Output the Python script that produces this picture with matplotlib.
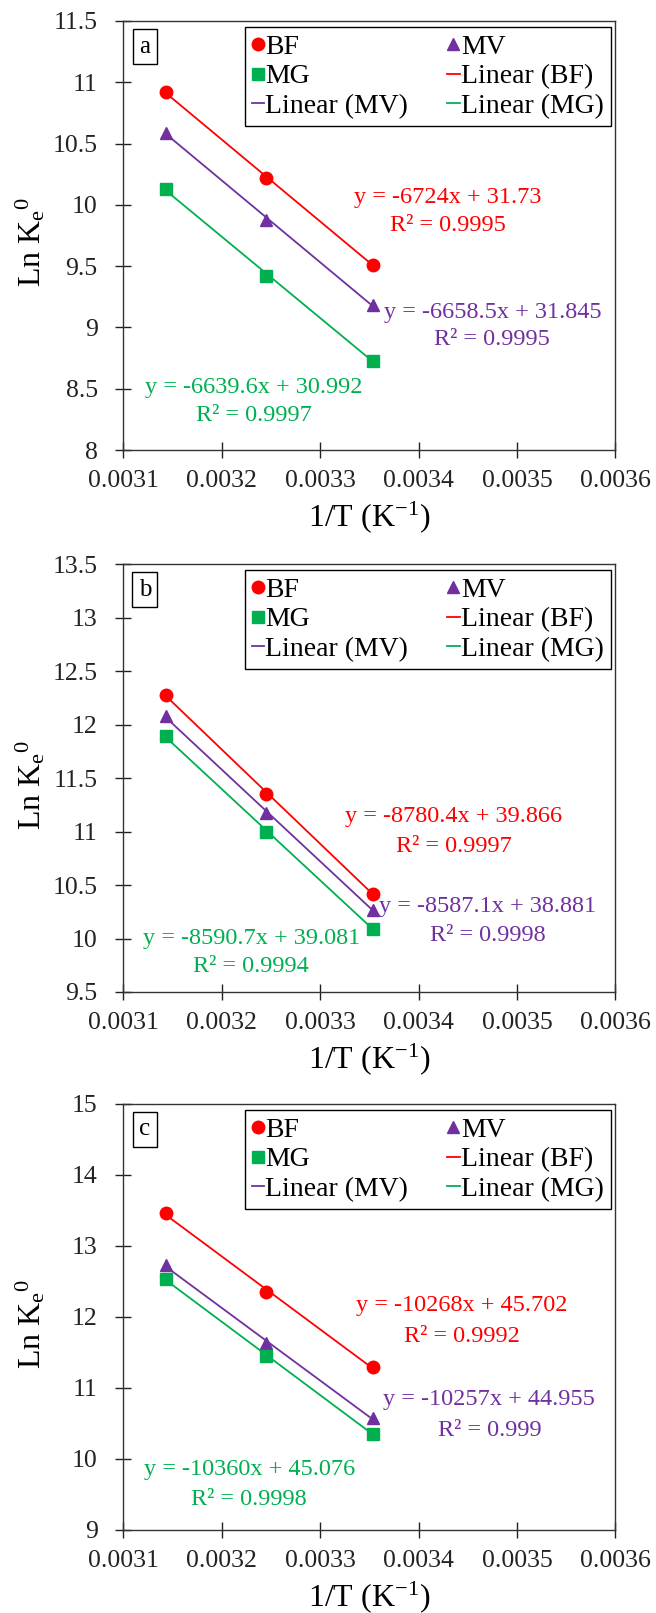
import numpy as np
import matplotlib.pyplot as plt
from matplotlib.lines import Line2D

plt.rcParams['font.family'] = ['Liberation Serif', 'DejaVu Serif']
plt.rcParams['mathtext.fontset'] = 'custom'
plt.rcParams['mathtext.rm'] = 'Liberation Serif'
plt.rcParams['mathtext.it'] = 'Liberation Serif:italic'
plt.rcParams['mathtext.bf'] = 'Liberation Serif:bold'

# 1/T values (45, 35, 25 C)
inv_T = [0.003143, 0.003245, 0.003354]

panel_labels = ['a', 'b', 'c']
bf = [[10.92, 10.22, 9.51], [12.28, 11.35, 10.42], [13.46, 12.35, 11.29]]
mv = [[10.59, 9.88, 9.18], [12.08, 11.17, 10.27], [12.73, 11.63, 10.57]]
mg = [[10.13, 9.42, 8.73], [11.89, 11.00, 10.09], [12.53, 11.45, 10.35]]

ylims = [(8, 11.5), (9.5, 13.5), (9, 15)]
ysteps = [0.5, 0.5, 1]

bf_eq = ['y = -6724x + 31.73', 'y = -8780.4x + 39.866', 'y = -10268x + 45.702']
bf_r2 = ['R² = 0.9995', 'R² = 0.9997', 'R² = 0.9992']
mv_eq = ['y = -6658.5x + 31.845', 'y = -8587.1x + 38.881', 'y = -10257x + 44.955']
mv_r2 = ['R² = 0.9995', 'R² = 0.9998', 'R² = 0.999']
mg_eq = ['y = -6639.6x + 30.992', 'y = -8590.7x + 39.081', 'y = -10360x + 45.076']
mg_r2 = ['R² = 0.9997', 'R² = 0.9994', 'R² = 0.9998']

# label positions (x, y_eq, y_r2) in data units
bf_pos = [(0.003430, 10.06, 9.83), (0.003436, 11.14, 10.86), (0.003444, 12.16, 11.73)]
mv_pos = [(0.003475, 9.12, 8.90), (0.003470, 10.30, 10.03), (0.003472, 10.84, 10.40)]
mg_pos = [(0.003233, 8.51, 8.28), (0.003230, 10.00, 9.74), (0.003228, 9.85, 9.43)]

red = '#FF0000'
purple = '#7030A0'
green = '#00B050'

fig = plt.figure(figsize=(6.56, 16.13), dpi=100)
boxes = [[0.188, 0.7210, 0.750, 0.2660],
         [0.188, 0.3850, 0.750, 0.2653],
         [0.188, 0.0515, 0.750, 0.2641]]

for i in range(3):
    ax = fig.add_axes(boxes[i])
    for ys, col, mk, ms in [(bf[i], red, 'o', 9), (mv[i], purple, '^', 9), (mg[i], green, 's', 8)]:
        k, b = np.polyfit(inv_T, ys, 1)
        xx = np.array([inv_T[0], inv_T[-1]])
        ax.plot(xx, k * xx + b, color=col, lw=1.3, zorder=2)
        ax.plot(inv_T, ys, linestyle='none', marker=mk, color=col, ms=ms, zorder=3)

    ax.set_xlim(0.0031, 0.0036)
    ax.set_ylim(*ylims[i])
    ax.set_xticks(np.arange(0.0031, 0.00361, 0.0001))
    ax.set_xticklabels(['0.0031', '0.0032', '0.0033', '0.0034', '0.0035', '0.0036'])
    yt = np.arange(ylims[i][0], ylims[i][1] + 0.01, ysteps[i])
    ax.set_yticks(yt)
    ax.set_yticklabels(['%g' % v for v in yt])
    ax.tick_params(direction='inout', length=11, width=1, labelsize=18.5, colors='#222222')
    ax.tick_params(axis='x', pad=9)
    ax.tick_params(axis='y', pad=13)
    for s in ax.spines.values():
        s.set_linewidth(1)
        s.set_color('#333333')

    ax.text(bf_pos[i][0], bf_pos[i][1], bf_eq[i], color=red, fontsize=17.5, ha='center', va='center')
    ax.text(bf_pos[i][0], bf_pos[i][2], bf_r2[i], color=red, fontsize=17.5, ha='center', va='center')
    ax.text(mv_pos[i][0], mv_pos[i][1], mv_eq[i], color=purple, fontsize=17.5, ha='center', va='center')
    ax.text(mv_pos[i][0], mv_pos[i][2], mv_r2[i], color=purple, fontsize=17.5, ha='center', va='center')
    ax.text(mg_pos[i][0], mg_pos[i][1], mg_eq[i], color=green, fontsize=17.5, ha='center', va='center')
    ax.text(mg_pos[i][0], mg_pos[i][2], mg_r2[i], color=green, fontsize=17.5, ha='center', va='center')

    ax.text(0.044, 0.94, panel_labels[i], transform=ax.transAxes, ha='center', va='center',
            fontsize=18, bbox=dict(boxstyle='square,pad=0.25', fc='white', ec='black', lw=1))

    handles = [Line2D([], [], ls='none', marker='o', color=red, ms=9),
               Line2D([], [], ls='none', marker='s', color=green, ms=8),
               Line2D([], [], color=purple, lw=1.3),
               Line2D([], [], ls='none', marker='^', color=purple, ms=9),
               Line2D([], [], color=red, lw=1.3),
               Line2D([], [], color=green, lw=1.3)]
    labels = ['BF', 'MG', 'Linear (MV)', 'MV', 'Linear (BF)', 'Linear (MG)']
    leg = ax.legend(handles, labels, ncol=2, loc='upper right', bbox_to_anchor=(0.991, 0.985),
                    fontsize=20, handlelength=0.45, handletextpad=0.05, columnspacing=1.4,
                    labelspacing=0.15, borderpad=0.25, borderaxespad=0, fancybox=False,
                    framealpha=1, edgecolor='black')
    leg.get_frame().set_linewidth(1)

    ax.set_ylabel(r'Ln K$_\mathregular{e}$$^\mathregular{0}$', fontsize=23)
    ax.yaxis.set_label_coords(-0.155, 0.484)
    ax.set_xlabel(r'1/T (K$^\mathregular{-1}$)', fontsize=23, labelpad=5)

fig.savefig('out.png', dpi=100)
